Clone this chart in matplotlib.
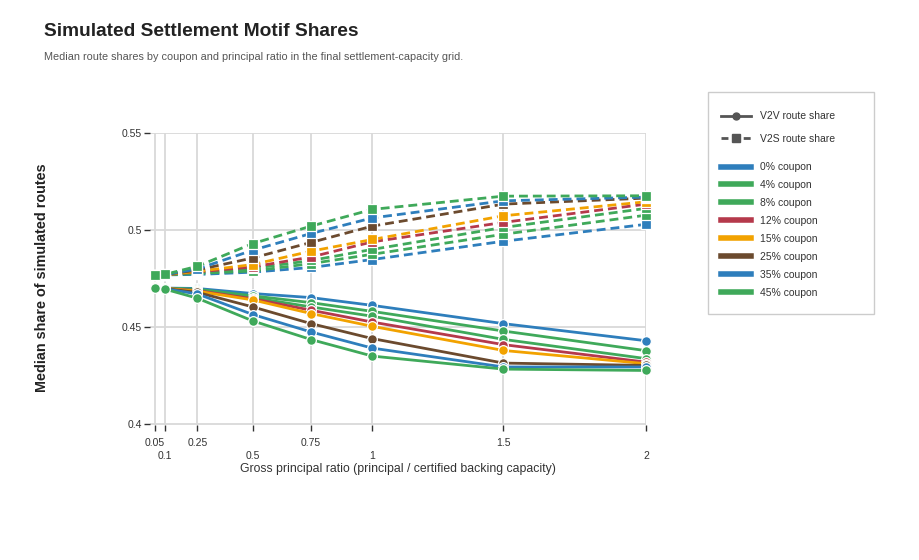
import numpy as np
import matplotlib
matplotlib.use('Agg')
import matplotlib.pyplot as plt
from matplotlib.lines import Line2D
from matplotlib.patches import Rectangle

plt.rcParams['font.family'] = ['Liberation Sans', 'DejaVu Sans']

ratios = [0.05, 0.1, 0.25, 0.5, 0.75, 1.0, 1.5, 2.0]
tick_labels = ['0.05', '0.1', '0.25', '0.5', '0.75', '1', '1.5', '2']
coupons = ['0%', '4%', '8%', '12%', '15%', '25%', '35%', '45%']
colors = ['#2e7ebc', '#3fa95a', '#3fa95a', '#b5394b', '#f2a200', '#6b4a2e', '#2e7ebc', '#3fa95a']

# median V2V share, one row per coupon
v2v = [
    [0.4706, 0.4702, 0.4700, 0.4674, 0.4653, 0.4613, 0.4519, 0.4431],
    [0.4706, 0.4701, 0.4696, 0.4662, 0.4627, 0.4582, 0.4481, 0.4380],
    [0.4705, 0.4701, 0.4693, 0.4653, 0.4605, 0.4557, 0.4438, 0.4339],
    [0.4705, 0.4700, 0.4689, 0.4647, 0.4588, 0.4527, 0.4411, 0.4321],
    [0.4705, 0.4700, 0.4686, 0.4641, 0.4571, 0.4505, 0.4381, 0.4313],
    [0.4704, 0.4699, 0.4680, 0.4605, 0.4519, 0.4442, 0.4316, 0.4304],
    [0.4703, 0.4698, 0.4672, 0.4566, 0.4476, 0.4393, 0.4296, 0.4296],
    [0.4702, 0.4696, 0.4650, 0.4533, 0.4437, 0.4352, 0.4285, 0.4278],
]

# median V2S share, one row per coupon
v2s = [
    [0.4767, 0.4770, 0.4772, 0.4784, 0.4808, 0.4849, 0.4943, 0.5030],
    [0.4767, 0.4770, 0.4777, 0.4790, 0.4828, 0.4876, 0.4979, 0.5077],
    [0.4767, 0.4771, 0.4780, 0.4803, 0.4844, 0.4901, 0.5014, 0.5112],
    [0.4767, 0.4771, 0.4785, 0.4811, 0.4862, 0.4940, 0.5040, 0.5134],
    [0.4768, 0.4771, 0.4788, 0.4823, 0.4892, 0.4952, 0.5074, 0.5146],
    [0.4768, 0.4772, 0.4795, 0.4857, 0.4937, 0.5021, 0.5134, 0.5165],
    [0.4768, 0.4772, 0.4800, 0.4897, 0.4983, 0.5063, 0.5151, 0.5170],
    [0.4768, 0.4773, 0.4814, 0.4931, 0.5021, 0.5107, 0.5175, 0.5177],
]

C = 0.112


def fwd(x):
    x = np.asarray(x, dtype=float)
    return x + C * x ** 2


def inv(y):
    y = np.asarray(y, dtype=float)
    return (-1 + np.sqrt(np.maximum(1 + 4 * C * y, 0))) / (2 * C)


fig = plt.figure(figsize=(9.2, 5.6), dpi=100)
ax = fig.add_axes([150 / 920, 1 - 424.5 / 560, 496 / 920, 291.5 / 560])
ax.set_xscale('function', functions=(fwd, inv))

for i in range(len(coupons)):
    ax.plot(ratios, v2s[i], color=colors[i], lw=2.0, ls=(0, (3.2, 1.8)),
            marker='s', ms=7, mec='white', mew=0.9, clip_on=False, zorder=3)
for i in range(len(coupons)):
    ax.plot(ratios, v2v[i], color=colors[i], lw=2.0, ls='-',
            marker='o', ms=7, mec='white', mew=0.9, clip_on=False, zorder=3)

ax.set_xlim(0.026, 2.0)
ax.set_ylim(0.4, 0.55)
# alternate tick labels on two rows
ax.set_xticks(ratios[0::2])
ax.set_xticklabels(tick_labels[0::2])
ax.set_xticks(ratios[1::2], minor=True)
ax.set_xticklabels(tick_labels[1::2], minor=True)
ax.set_yticks([0.4, 0.45, 0.5, 0.55])
ax.set_yticklabels(['0.4', '0.45', '0.5', '0.55'])
ax.grid(True, which='both', color='#d9d9d9', lw=1.3)
ax.set_axisbelow(True)
for s in ax.spines.values():
    s.set_visible(False)
ax.tick_params(axis='both', which='both', length=4, width=1, color='#333333',
               labelsize=7.5, labelcolor='#333333')
ax.tick_params(axis='x', which='major', pad=6)
ax.tick_params(axis='x', which='minor', pad=15)
ax.tick_params(axis='y', pad=2)

fig.text(398 / 920, 1 - 469 / 560, 'Gross principal ratio (principal / certified backing capacity)',
         ha='center', va='center', fontsize=8.8, color='#333333')
fig.text(42 / 920, 1 - 278 / 560, 'Median share of simulated routes', rotation=90,
         ha='center', va='center', fontsize=10.4, fontweight='bold', color='#222222')
fig.text(44 / 920, 1 - 31 / 560, 'Simulated Settlement Motif Shares', ha='left', va='center',
         fontsize=13.8, fontweight='bold', color='#222222')
fig.text(44 / 920, 1 - 57 / 560,
         'Median route shares by coupon and principal ratio in the final settlement-capacity grid.',
         ha='left', va='center', fontsize=7.8, color='#555555')

# legend box
fig.patches.append(Rectangle((708 / 920, 1 - 314 / 560), 166 / 920, 222 / 560,
                             transform=fig.transFigure, fill=False, ec='#cccccc', lw=1))

style_handles = [
    Line2D([], [], color='#555555', lw=2, marker='o', ms=5),
    Line2D([], [], color='#555555', lw=2, ls=(0, (2.5, 1.5)), marker='s', ms=6),
]
leg1 = fig.legend(style_handles, ['V2V route share', 'V2S route share'], loc='upper left',
                  bbox_to_anchor=(716 / 920, 1 - 106 / 560), frameon=False, fontsize=7.5,
                  handlelength=2.9, handletextpad=0.8, labelspacing=1.2, borderpad=0)
for t in leg1.get_texts():
    t.set_color('#333333')

coupon_handles = [Line2D([], [], color=c, lw=4) for c in colors]
leg2 = fig.legend(coupon_handles, [c + ' coupon' for c in coupons], loc='upper left',
                  bbox_to_anchor=(716 / 920, 1 - 157 / 560), frameon=False, fontsize=7.5,
                  handlelength=2.9, handletextpad=0.8, labelspacing=0.76, borderpad=0)
for t in leg2.get_texts():
    t.set_color('#333333')

fig.savefig('out.png', dpi=100)
